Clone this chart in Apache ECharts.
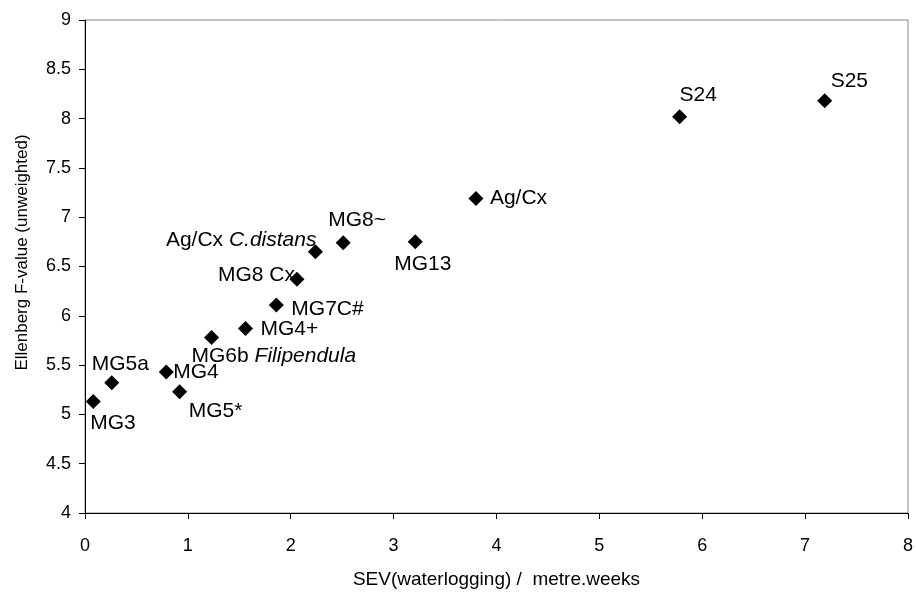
<!DOCTYPE html>
<html>
<head>
<meta charset="utf-8">
<script src="https://cdn.jsdelivr.net/npm/echarts@6/dist/echarts.min.js"></script>
<style>html,body{margin:0;padding:0;background:#fff}#c{width:916px;height:594px}</style>
</head>
<body>
<div id="c"></div>
<script>
// Data
const names = ['MG3','MG5a','MG4','MG5*','MG6b Filipendula','MG4+','MG7C#','MG8 Cx','Ag/Cx C.distans','MG8~','MG13','Ag/Cx','S24','S25'];
const sevValues = [0.08, 0.26, 0.79, 0.92, 1.23, 1.56, 1.86, 2.06, 2.24, 2.51, 3.21, 3.80, 5.78, 7.19];
const fValues = [5.13, 5.32, 5.43, 5.23, 5.78, 5.87, 6.11, 6.37, 6.65, 6.74, 6.75, 7.19, 8.02, 8.18];
const labelText = ['MG3','MG5a','MG4','MG5*','MG6b {i|Filipendula}','MG4+','MG7C#','MG8 Cx','Ag/Cx {i|C.distans}','MG8~','MG13','Ag/Cx','S24','S25'];
const xTitle = 'SEV(waterlogging) /  metre.weeks';
const yTitle = 'Ellenberg F-value (unweighted)';

// label placement (layout only): align, dx, dy from the marker centre
const labelLayout = {
  'MG3': ['left', -3, 22],
  'MG5a': ['left', -20, -19],
  'MG4': ['left', 7, 0],
  'MG5*': ['left', 9, 19],
  'MG6b Filipendula': ['left', -20, 19],
  'MG4+': ['left', 15, 1],
  'MG7C#': ['left', 15, 4],
  'MG8 Cx': ['right', -2, -4],
  'Ag/Cx C.distans': ['right', 1, -12],
  'MG8~': ['left', -15, -23],
  'MG13': ['left', -21, 22],
  'Ag/Cx': ['left', 14, 0],
  'S24': ['left', 0, -21],
  'S25': ['left', 6, -20]
};

const FONT = '"Liberation Sans", Arial, sans-serif';
const SYM = 15;
const data = names.map((n, i) => {
  const l = labelLayout[n];
  return {
    name: n,
    value: [sevValues[i], fValues[i]],
    label: {
      show: true,
      position: [SYM / 2 + l[1], SYM / 2 + l[2]],
      align: l[0],
      verticalAlign: 'middle',
      color: '#000',
      formatter: labelText[i]
    }
  };
});

const chart = echarts.init(document.getElementById('c'), null, {renderer: 'canvas'});
chart.setOption({
  animation: false,
  backgroundColor: '#fff',
  grid: {left: 85, right: 6, top: 20, bottom: 77, show: true, borderColor: '#888', borderWidth: 1, backgroundColor: 'transparent'},
  xAxis: {
    type: 'value', min: 0, max: 8, interval: 1,
    name: xTitle, nameLocation: 'middle', nameGap: 57,
    nameTextStyle: {fontFamily: FONT, fontSize: 19, color: '#000'},
    axisLine: {show: true, onZero: false, lineStyle: {color: '#000', width: 1}},
    axisTick: {show: true, length: 6, lineStyle: {color: '#000'}},
    axisLabel: {fontFamily: FONT, fontSize: 18, color: '#000', margin: 24},
    splitLine: {show: false}
  },
  yAxis: {
    type: 'value', min: 4, max: 9, interval: 0.5,
    name: yTitle, nameLocation: 'middle', nameGap: 54, nameRotate: 90,
    nameTextStyle: {fontFamily: FONT, fontSize: 17, color: '#000', padding: [0, 0, 0, 28]},
    axisLine: {show: true, onZero: false, lineStyle: {color: '#000', width: 1}},
    axisTick: {show: true, length: 6, lineStyle: {color: '#000'}},
    axisLabel: {fontFamily: FONT, fontSize: 18, color: '#000', margin: 14},
    splitLine: {show: false}
  },
  series: [{
    type: 'scatter',
    symbol: 'diamond',
    symbolSize: SYM,
    itemStyle: {color: '#000', opacity: 1},
    label: {
      fontFamily: FONT, fontSize: 21, color: '#000',
      rich: {i: {fontFamily: FONT, fontSize: 21, fontStyle: 'italic', color: '#000'}}
    },
    labelLayout: {hideOverlap: false},
    data: data
  }]
});
</script>
</body>
</html>
